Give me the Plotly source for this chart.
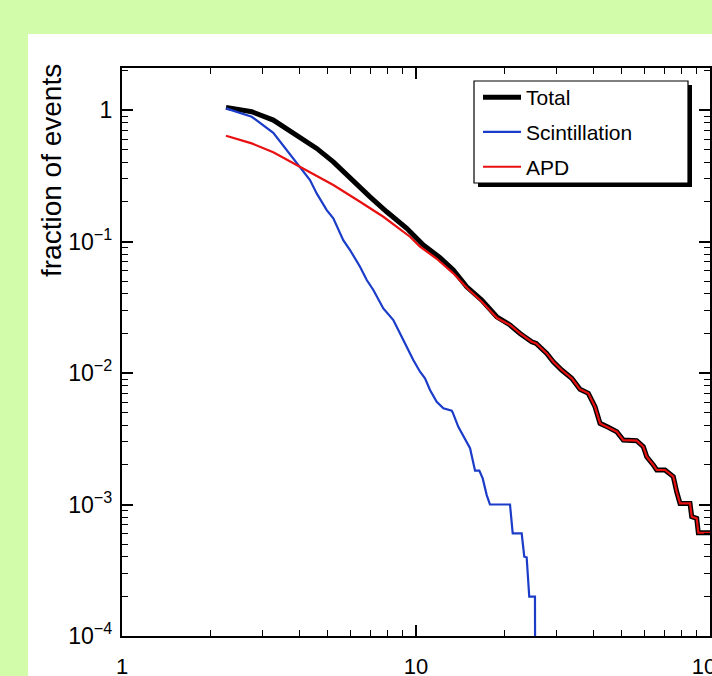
import plotly.graph_objects as go

# ---- data (x: energy-like quantity, y: fraction of events) ----
total_x = [2.258, 2.762, 3.270, 3.928, 4.594, 5.233, 5.965, 6.976, 7.950, 9.298, 10.59,
           12.07, 13.39, 14.88, 16.73, 18.82]
total_y = [1.048, 0.971, 0.839, 0.645, 0.511, 0.404, 0.302, 0.219, 0.1685, 0.126, 0.094,
           0.0755, 0.0607, 0.0453, 0.0359, 0.0268]

apd_x = [2.258, 2.762, 3.270, 4.031, 5.233, 6.451, 7.742, 9.541, 10.32, 11.76, 12.07,
         13.36, 14.91, 16.77, 18.86]
apd_y = [0.638, 0.558, 0.477, 0.370, 0.269, 0.2008, 0.1544, 0.1088, 0.0913, 0.074, 0.0705,
         0.0576, 0.0443, 0.0347, 0.0262]

# common high-x tail where Total and APD coincide
tail_x = [20.88, 22.58, 24.75, 25.63, 27.84, 29.31, 31.30, 33.86, 36.12, 38.56, 40.63, 42.26,
          45.10, 48.17, 50.71, 56.31, 59.32, 60.92, 64.15, 65.88, 70.29, 75.02, 77.03, 79.07,
          85.50, 86.65, 90.10, 91.26, 110.0]
tail_y = [0.0232, 0.0200, 0.0173, 0.0168, 0.0141, 0.01219, 0.01054, 0.00911, 0.00752, 0.00701,
          0.00554, 0.00414, 0.00387, 0.00358, 0.00309, 0.00306, 0.00275, 0.00231, 0.00200,
          0.00183, 0.00183, 0.00163, 0.00125, 0.00102, 0.00102, 0.000808, 0.000785, 0.000610,
          0.000610]

scint_x = [2.258, 2.762, 3.270, 3.928, 4.36, 4.594, 4.970, 5.233, 5.657, 5.965, 6.451, 6.799,
           7.16, 7.742, 8.373, 9.053, 9.790, 10.32, 10.73, 11.16, 11.76, 12.39, 13.23, 13.33,
           13.93, 15.27, 15.88, 16.42, 16.86, 17.40, 17.85, 20.88, 21.33, 22.88, 23.35, 23.79,
           24.28, 25.39, 25.53]
scint_y = [1.030, 0.889, 0.672, 0.393, 0.2936, 0.2325, 0.1736, 0.150, 0.1026, 0.0862, 0.0643,
           0.0510, 0.0428, 0.0310, 0.0253, 0.0178, 0.01256, 0.01023, 0.00911, 0.00743, 0.00605,
           0.00539, 0.00517, 0.00502, 0.00390, 0.00268, 0.00181, 0.00181, 0.00158, 0.00118,
           0.00100, 0.00100, 0.000604, 0.000604, 0.000401, 0.000397, 0.000199, 0.000199, 1e-6]

FONT = "Liberation Sans, Arial, Helvetica, sans-serif"
W, H = 712, 676
L, R, T, B = 122, 2, 68, 40
PW, PH = W - L - R, H - T - B


def px(xp):
    return (xp - L) / PW


def py(yp):
    return (H - B - yp) / PH


fig = go.Figure()
fig.add_trace(go.Scatter(x=total_x + tail_x, y=total_y + tail_y, mode="lines", name="Total",
                         line=dict(color="black", width=5), legendgroup="a"))
fig.add_trace(go.Scatter(x=scint_x, y=scint_y, mode="lines", name="Scintillation",
                         line=dict(color="#1a3cc8", width=2.2), legendgroup="b"))
fig.add_trace(go.Scatter(x=apd_x + tail_x, y=apd_y + tail_y, mode="lines", name="APD",
                         line=dict(color="#e81010", width=2.2), legendgroup="c"))

axis_common = dict(
    type="log", showline=True, linecolor="black", linewidth=2, mirror="allticks",
    ticks="inside", ticklen=11, tickwidth=1.5, tickcolor="black", showgrid=False,
    zeroline=False, tickmode="linear", tick0=0, dtick=1,
    minor=dict(ticks="inside", ticklen=6, tickwidth=1, tickcolor="black", dtick="D1",
               showgrid=False),
    automargin=False, ticklabeloverflow="allow",
)

fig.update_xaxes(range=[0, 2], exponentformat="none",
                 tickfont=dict(family=FONT, size=22, color="black"),
                 ticklabelstandoff=10, **axis_common)
fig.update_yaxes(range=[-4, 0.32], exponentformat="power",
                 tickfont=dict(family=FONT, size=18.5, color="black"),
                 ticklabelstandoff=4, **axis_common)

shapes = [
    # white panel on the green page
    dict(type="rect", xref="paper", yref="paper", x0=px(28), x1=px(760), y0=py(720), y1=py(34),
         fillcolor="white", line=dict(width=0), layer="below"),
    # legend shadow and box
    dict(type="rect", xref="paper", yref="paper", x0=px(478), x1=px(692), y0=py(187), y1=py(85),
         fillcolor="black", line=dict(width=0), layer="above"),
    dict(type="rect", xref="paper", yref="paper", x0=px(474), x1=px(688), y0=py(183), y1=py(81),
         fillcolor="white", line=dict(color="black", width=1.2), layer="above"),
]

fig.update_layout(
    width=W, height=H,
    margin=dict(l=L, r=R, t=T, b=B, autoexpand=False),
    paper_bgcolor="#d3fcaa", plot_bgcolor="white",
    shapes=shapes,
    showlegend=True,
    legend=dict(x=px(478), y=py(77), xanchor="left", yanchor="top",
                bgcolor="rgba(0,0,0,0)", borderwidth=0, tracegroupgap=4.5,
                itemwidth=38, font=dict(family=FONT, size=21, color="black")),
    annotations=[dict(text="fraction of events", xref="paper", yref="paper",
                      x=px(51), y=py(171), xanchor="center", yanchor="middle",
                      textangle=-90, showarrow=False,
                      font=dict(family=FONT, size=28, color="black"))],
)

fig.write_html("out.html")
